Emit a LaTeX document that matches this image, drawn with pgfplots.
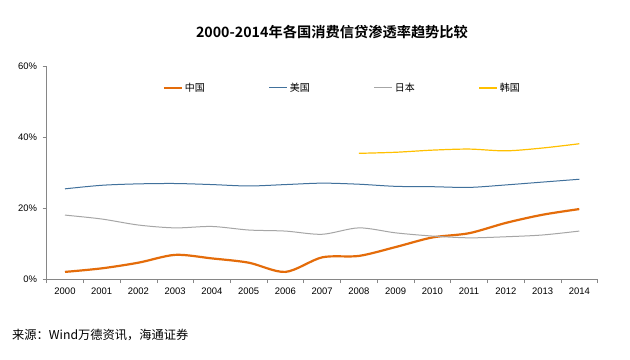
\documentclass[border=0pt]{standalone}
\usepackage{pgfplots}
\pgfplotsset{compat=1.18}
\usepackage{fontspec}
\setmainfont{Liberation Sans}
\newfontfamily\cjk[BoldFont={Noto Sans CJK SC Bold}]{Noto Sans CJK SC}
\definecolor{cnorange}{HTML}{E46C0A}
\definecolor{usblue}{HTML}{41719C}
\definecolor{jpgray}{HTML}{A6A6A6}
\definecolor{krgold}{HTML}{FFC000}
\definecolor{axgray}{HTML}{868686}
\begin{document}
\begin{tikzpicture}[x=1bp,y=1bp]
\useasboundingbox (0,0) rectangle (630,359);
\fill[white] (0,0) rectangle (630,359);
\begin{axis}[
  at={(65bp,80bp)}, anchor=origin,
  scale only axis, width=551bp, height=213bp,
  xmin=-0.5, xmax=14.5, ymin=0, ymax=60,
  axis x line*=bottom, axis y line*=left,
  axis line style={axgray, line width=0.6pt},
  xtick={0,...,14},
  xticklabels={2000,2001,2002,2003,2004,2005,2006,2007,2008,2009,2010,2011,2012,2013,2014},
  minor xtick={-0.5,0.5,...,14.5},
  ytick={0,20,40,60},
  yticklabel={\pgfmathprintnumber{\tick}\%},
  /pgf/number format/assume math mode=true,
  tick label style={font=\fontsize{9.5}{11}\selectfont, text=black},
  major x tick style={draw=none},
  minor x tick style={axgray, line width=0.6pt},
  major y tick style={axgray, line width=0.6pt},
  tick align=outside,
  minor tick length=4bp, major tick length=4bp,
  xticklabel style={yshift=-1bp},
  yticklabel style={xshift=-2bp},
  legend columns=4,
  legend style={draw=none, fill=none, at={(0.205,0.897)}, anchor=west,
    font=\cjk\fontsize{10}{11}\selectfont,
    /tikz/every even column/.append style={column sep=62bp}},
  legend image code/.code={\draw[#1] (0bp,0bp) -- (18bp,0bp);},
  every axis plot/.append style={smooth, tension=0.5},
]
\addplot[cnorange, line width=2.2bp] coordinates {
(0,2.0)(1,3.0)(2,4.6)(3,6.8)(4,5.8)(5,4.6)(6,2.0)(7,6.1)(8,6.5)(9,9.0)(10,11.7)(11,12.9)(12,15.8)(13,18.1)(14,19.7)};
\addlegendentry{中国}
\addplot[usblue, line width=1bp] coordinates {
(0,25.4)(1,26.4)(2,26.8)(3,26.9)(4,26.6)(5,26.2)(6,26.6)(7,27.0)(8,26.7)(9,26.1)(10,26.0)(11,25.8)(12,26.5)(13,27.3)(14,28.1)};
\addlegendentry{美国}
\addplot[jpgray, line width=1bp] coordinates {
(0,18.0)(1,16.9)(2,15.2)(3,14.4)(4,14.8)(5,13.8)(6,13.5)(7,12.6)(8,14.4)(9,13.0)(10,12.1)(11,11.6)(12,11.9)(13,12.4)(14,13.5)};
\addlegendentry{日本}
\addplot[krgold, line width=1.2bp] coordinates {
(8,35.4)(9,35.7)(10,36.3)(11,36.6)(12,36.1)(13,36.9)(14,38.1)};
\addlegendentry{韩国}
\end{axis}
\node[font=\cjk\bfseries\fontsize{14.3}{16}\selectfont] at (332,327) {2000-2014年各国消费信贷渗透率趋势比较};
\node[anchor=west, font=\cjk\fontsize{12.3}{14}\selectfont, inner sep=0] at (12,24) {来源：Wind万德资讯，海通证券};
\end{tikzpicture}
\end{document}
